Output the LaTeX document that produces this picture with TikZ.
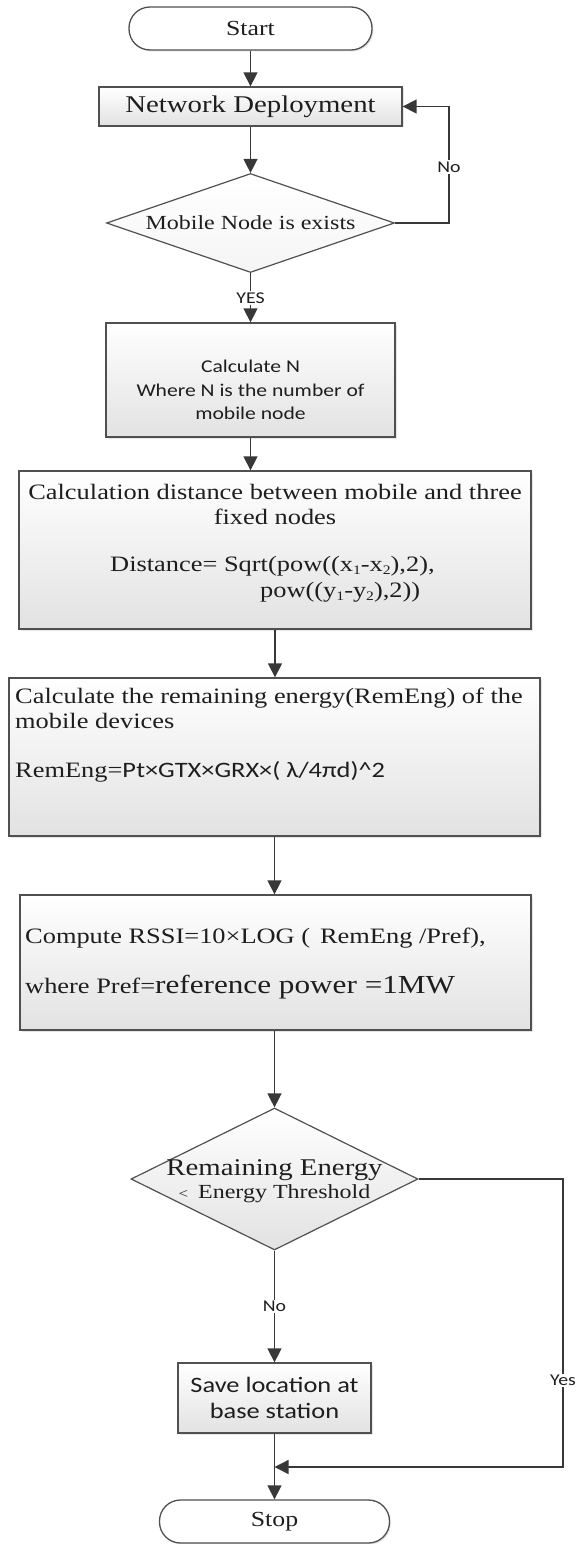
\documentclass[tikz,border=0pt]{standalone}
\usepackage{fontspec}
\setmainfont{Liberation Serif}
\newfontfamily\tnr[FakeStretch=1.2]{Liberation Serif}
\newfontfamily\carl[FakeStretch=1.2]{Carlito}
\usetikzlibrary{shapes.geometric,arrows.meta,shadows}
\newcommand\sbs[1]{\raisebox{-3pt}{\fontsize{13}{13}\selectfont #1}}
\newcommand\fs[2]{\fontsize{#1}{#2}\selectfont}
\definecolor{boxline}{HTML}{505050}
\definecolor{arrcol}{HTML}{383838}
\definecolor{boxbot}{HTML}{E2E2E2}
\definecolor{txt}{HTML}{1E1E1E}
\begin{document}
\begin{tikzpicture}[x={(1pt,0)},y={(0,-1pt)},
  box/.style={rectangle, draw=boxline, line width=1.3pt, top color=white, bottom color=boxbot,
     inner sep=0pt, text=txt, drop shadow={shadow xshift=1.5pt, shadow yshift=-1.5pt, opacity=0.2}},
  term/.style={box, rounded corners=21pt, top color=white, bottom color=white},
  dia/.style={diamond, draw=boxline, line width=1.2pt, top color=white, bottom color=boxbot, inner sep=0pt, text=txt},
  conn/.style={draw=arrcol, line width=1.4pt, -{Triangle[length=14pt,width=14pt]}},
  lab/.style={fill=white, inner sep=1.5pt, font=\carl\fs{16.5}{16.5}, text=txt},
  tl/.style={inner sep=0pt, text=txt, font=\tnr\fs{22}{25}},
]
\useasboundingbox (0,0) rectangle (576,1544);

% Start
\node[term, minimum width=243pt, minimum height=43pt, font=\tnr\fs{21.5}{24}] (start) at (250.5,28.5) {Start};
% Network deployment
\node[box, minimum width=303pt, minimum height=39pt, font=\tnr\fs{24}{26}] (net) at (250.5,106.5) {Network Deployment};
% Decision 1
\node[dia, minimum width=288pt, minimum height=99pt, aspect=2.9, bottom color=gray!8, font=\tnr\fs{20}{22}] (d1) at (250.5,223) {Mobile Node is exists};
\coordinate (loopc) at (449,223);

% Calculate N
\node[box, minimum width=289pt, minimum height=114pt] (calc) at (250.5,380) {};
\node[inner sep=0pt, text=txt, font=\carl\fs{18}{23.5}, align=center] (calct) at (250.5,390) {Calculate N\\Where N is the number of\\mobile node};

% Distance
\node[box, minimum width=512pt, minimum height=158pt] (dist) at (275,550) {};
\node[tl, anchor=base] (dl1) at (275,499) {Calculation distance between mobile and three};
\node[tl, anchor=base] (dl2) at (275,524) {fixed nodes};
\node[tl, anchor=base west] (dl3) at (110,571) {Distance= Sqrt(pow((x\sbs{1}-x\sbs{2}),2),};
\node[tl, anchor=base west] (dl4) at (260,597) {pow((y\sbs{1}-y\sbs{2}),2))};

% Remaining energy
\node[box, minimum width=531pt, minimum height=158pt] (rem) at (274.5,757) {};
\node[tl, anchor=base west] (rl1) at (15,703) {Calculate the remaining energy(RemEng) of the};
\node[tl, anchor=base west] (rl2) at (15,728) {mobile devices};
\node[tl, anchor=base west] (rl3) at (15,777) {RemEng={\carl\fs{22}{25}Pt×GTX×GRX×( λ/4πd)\textasciicircum 2}};

% Compute RSSI
\node[box, minimum width=511pt, minimum height=135pt] (comp) at (275.5,962.5) {};
\node[tl, anchor=base west] (cl1) at (25,943) {Compute RSSI=10×LOG (\hspace{0.45em}RemEng /Pref),};
\node[tl, anchor=base west] (cl2) at (25,993) {where Pref={\fs{26}{28}reference power =1MW}};

% Decision 2
\node[dia, minimum width=287pt, minimum height=142pt, aspect=2.02] (d2) at (274.5,1179) {};
\node[tl, anchor=base, font=\tnr\fs{24}{26}] (d2l1) at (274.5,1175) {Remaining Energy};
\node[tl, anchor=base, font=\tnr\fs{20}{22}] (d2l2) at (274.5,1198) {{\fs{14}{14}<}\hspace{0.5em}Energy Threshold};

% Save
\node[box, minimum width=193pt, minimum height=70pt, font=\carl\fs{22}{26}, align=center] (save) at (274.5,1398) {Save location at\\base station};

% Stop
\node[term, minimum width=230pt, minimum height=43pt, font=\tnr\fs{21.5}{24}] (stop) at (274.5,1521.5) {Stop};
\coordinate (join) at (274.5,1467);
\coordinate (yc) at (563,1179);

% Connectors
\draw[conn] (start) -- (net);
\draw[conn] (net) -- (d1);
\draw[conn] (d1.east) -- (loopc) |- node[lab, pos=0.24] (nolab1) {No} (net.east);
\draw[conn] (d1.south) -- node[lab] (yeslab) {YES} (calc.north);
\draw[conn] (calc.south) -- (calc.south |- dist.north);
\draw[conn] (dist.south) -- (dist.south |- rem.north);
\draw[conn] (rem.south) -- (rem.south |- comp.north);
\draw[conn] (d2.north |- comp.south) -- (d2.north);
\draw[conn] (d2.south) -- node[lab] (nolab2) {No} (save.north);
\draw[conn] (save) -- (stop);
\draw[conn] (d2.east) -- (yc) |- node[lab, pos=0.35] (yeslab2) {Yes} (join);
\end{tikzpicture}
\end{document}
